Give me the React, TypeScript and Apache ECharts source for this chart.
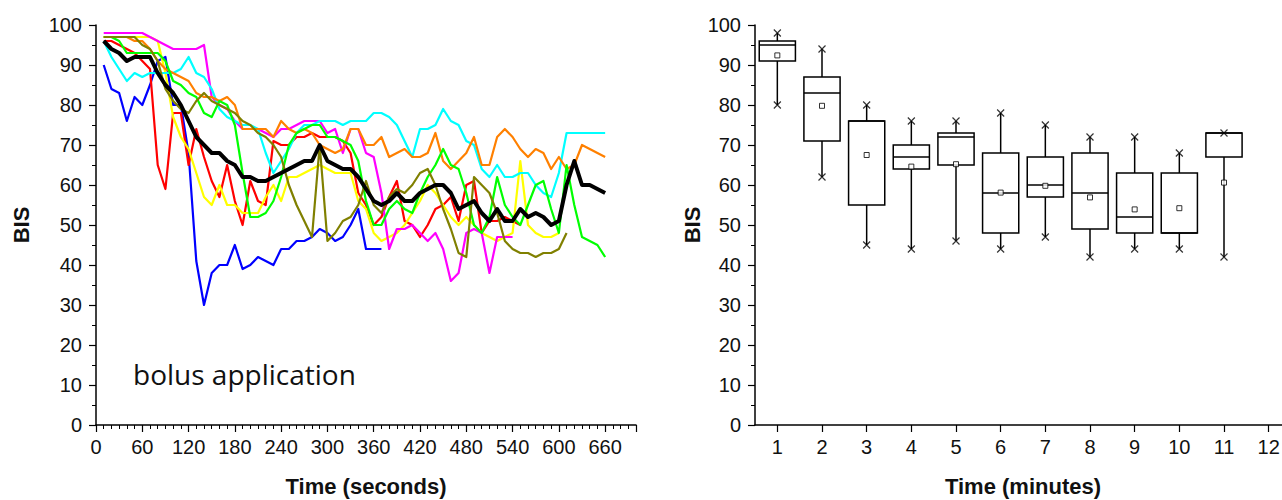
import React, { useEffect, useRef } from "react";
import * as echarts from "echarts";

// ---- Left panel: BIS time courses (sampled every 10 s, first sample at 10 s)
const SAMPLE_STEP = 10;
const blueBIS = [90, 84, 83, 76, 82, 80, 85, 91, 92, 80, 80, 68, 41, 30, 38, 40, 40, 45, 39, 40, 42, 41, 40, 44, 44, 46, 46, 47, 49, 48, 46, 47, 50, 54, 44, 44, 44];
const redBIS = [96, 96, 95, 94, 93, 91, 89, 65, 59, 78, 78, 65, 74, 67, 61, 57, 65, 56, 50, 61, 56, 55, 71, 70, 70, 72, 72, 73, 72, 72, 72, 71, 68, 58, 55, 50, 52, 57, 61, 51, 50, 47, 50, 54, 55, 57, 51, 60, 61, 48, 51, 51, 52, 51, 50];
const yellowBIS = [97, 97, 97, 97, 97, 97, 97, 96, 88, 77, 72, 69, 63, 57, 55, 60, 55, 55, 53, 53, 53, 57, 60, 56, 62, 62, 63, 64, 65, 64, 63, 63, 63, 56, 54, 48, 46, 47, 48, 50, 53, 56, 60, 58, 55, 52, 50, 52, 50, 48, 47, 46, 47, 48, 66, 50, 48, 47, 47, 48];
const magentaBIS = [98, 98, 98, 98, 98, 98, 97, 96, 95, 94, 94, 94, 94, 95, 82, 80, 79, 76, 74, 74, 74, 73, 72, 74, 74, 75, 76, 76, 76, 73, 74, 68, 74, 74, 68, 67, 58, 44, 49, 49, 50, 48, 46, 48, 44, 36, 38, 48, 49, 48, 38, 47, 47, 47];
const cyanBIS = [96, 92, 89, 86, 88, 87, 88, 88, 88, 88, 89, 92, 88, 87, 84, 79, 77, 76, 75, 75, 74, 68, 63, 66, 69, 73, 75, 75, 76, 76, 76, 75, 76, 76, 76, 78, 78, 77, 75, 71, 67, 74, 74, 75, 79, 76, 75, 71, 70, 64, 62, 65, 62, 62, 63, 63, 60, 58, 57, 63, 73, 73, 73, 73, 73, 73];
const orangeBIS = [97, 97, 97, 97, 96, 96, 94, 91, 89, 88, 87, 86, 83, 82, 82, 81, 82, 80, 74, 74, 74, 74, 72, 76, 74, 73, 74, 73, 70, 69, 68, 69, 74, 74, 70, 70, 72, 67, 68, 69, 67, 67, 68, 73, 66, 64, 66, 68, 72, 65, 65, 72, 74, 72, 69, 67, 69, 68, 64, 67, 64, 65, 70, 69, 68, 67];
const greenBIS = [97, 97, 96, 93, 93, 93, 93, 93, 91, 86, 85, 83, 82, 78, 77, 81, 80, 75, 63, 52, 52, 53, 56, 62, 70, 73, 74, 75, 75, 72, 72, 71, 70, 66, 56, 50, 50, 54, 56, 54, 53, 58, 62, 65, 69, 65, 64, 58, 50, 48, 52, 62, 55, 52, 50, 55, 60, 61, 54, 48, 65, 55, 47, 46, 45, 42];
const oliveBIS = [97, 97, 97, 97, 97, 95, 94, 91, 84, 81, 79, 78, 81, 83, 81, 80, 79, 78, 76, 75, 73, 72, 70, 67, 60, 55, 51, 47, 70, 46, 48, 51, 52, 55, 61, 55, 53, 57, 59, 58, 60, 63, 64, 60, 54, 49, 43, 42, 62, 60, 58, 53, 46, 44, 43, 43, 42, 43, 43, 44, 48];
const meanBIS = [96, 94, 93, 91, 92, 92, 92, 88, 85, 83, 80, 76, 72, 70, 68, 68, 66, 65, 62, 62, 61, 61, 62, 63, 64, 65, 66, 66, 70, 66, 65, 64, 64, 62, 59, 56, 55, 56, 58, 56, 56, 58, 59, 60, 60, 58, 54, 55, 56, 53, 51, 54, 51, 51, 54, 52, 53, 52, 50, 51, 60, 66, 60, 60, 59, 58];

// ---- Right panel: box plot per minute
const minuteLabels = ["1", "2", "3", "4", "5", "6", "7", "8", "9", "10", "11", "12"];
const boxMin = [80, 62, 45, 44, 46, 44, 47, 42, 44, 44, 42];
const boxQ1 = [91, 71, 55, 64, 65, 48, 57, 49, 48, 48, 67];
const boxMedian = [95, 83, 76, 67, 72, 58, 60, 58, 52, 48, 73];
const boxQ3 = [96, 87, 76, 70, 73, 68, 67, 68, 63, 63, 73];
const boxMax = [98, 94, 80, 76, 76, 78, 75, 72, 72, 68, 73];
const boxMean = [92.4, 79.8, 67.5, 64.6, 65.2, 58.1, 59.8, 56.9, 53.9, 54.2, 60.6];

const FONT = "'Liberation Sans', Arial, sans-serif";

function toPairs(vals: number[]) {
  return vals.map((v, i) => [(i + 1) * SAMPLE_STEP, v]);
}

export default function App() {
  const ref = useRef<HTMLDivElement>(null);

  useEffect(() => {
    if (!ref.current) return;
    const chart = echarts.init(ref.current, undefined, { renderer: "svg" });

    const lineSeries = (name: string, vals: number[], color: string, width: number, z: number) => ({
      name,
      type: "line",
      xAxisIndex: 0,
      yAxisIndex: 0,
      data: toPairs(vals),
      showSymbol: false,
      symbol: "none",
      smooth: false,
      z,
      lineStyle: { color, width, join: "round" },
      itemStyle: { color },
    });

    const axisCommon = {
      axisLine: { show: true, lineStyle: { color: "#000", width: 1.5 } },
      splitLine: { show: false },
      axisLabel: { color: "#111", fontSize: 20, fontFamily: FONT },
    };

    const boxData = boxMin.map((_, i) => [i, boxMin[i], boxQ1[i], boxMedian[i], boxQ3[i], boxMax[i]]);
    const extremes = [
      ...boxMax.map((v, i) => [i, v]),
      ...boxMin.map((v, i) => [i, v]),
    ];

    const option: any = {
      animation: false,
      backgroundColor: "#fff",
      grid: [
        { left: 96, top: 25, width: 540, height: 400, outerBoundsMode: "none" },
        { left: 755, top: 25, width: 536, height: 400, outerBoundsMode: "none" },
      ],
      xAxis: [
        {
          ...axisCommon,
          type: "value",
          gridIndex: 0,
          min: 0,
          max: 700,
          interval: 60,
          axisTick: { show: true, length: 7, lineStyle: { color: "#000", width: 1.2 } },
          minorTick: { show: true, splitNumber: 6, length: 4, lineStyle: { color: "#000", width: 1 } },
          axisLabel: {
            ...axisCommon.axisLabel,
            margin: 12,
            formatter: (v: number) => (v % 60 === 0 ? String(v) : ""),
          },
          name: "Time (seconds)",
          nameLocation: "middle",
          nameGap: 50,
          nameTextStyle: { fontSize: 22, fontWeight: "bold", fontFamily: FONT, color: "#111" },
        },
        {
          ...axisCommon,
          type: "category",
          gridIndex: 1,
          data: minuteLabels,
          boundaryGap: true,
          axisTick: { show: true, alignWithLabel: true, length: 7, lineStyle: { color: "#000", width: 1.2 } },
          axisLabel: { ...axisCommon.axisLabel, margin: 12, interval: 0 },
          name: "Time (minutes)",
          nameLocation: "middle",
          nameGap: 50,
          nameTextStyle: { fontSize: 22, fontWeight: "bold", fontFamily: FONT, color: "#111" },
        },
      ],
      yAxis: [
        {
          ...axisCommon,
          type: "value",
          gridIndex: 0,
          min: 0,
          max: 100,
          interval: 10,
          axisTick: { show: true, length: 7, lineStyle: { color: "#000", width: 1.2 } },
          minorTick: { show: true, splitNumber: 2, length: 4, lineStyle: { color: "#000", width: 1 } },
          axisLabel: { ...axisCommon.axisLabel, margin: 14 },
          name: "BIS",
          nameLocation: "middle",
          nameGap: 64,
          nameRotate: 90,
          nameTextStyle: { fontSize: 22, fontWeight: "bold", fontFamily: FONT, color: "#111" },
        },
        {
          ...axisCommon,
          type: "value",
          gridIndex: 1,
          min: 0,
          max: 100,
          interval: 10,
          axisTick: { show: true, length: 7, lineStyle: { color: "#000", width: 1.2 } },
          minorTick: { show: true, splitNumber: 2, length: 4, lineStyle: { color: "#000", width: 1 } },
          axisLabel: { ...axisCommon.axisLabel, margin: 14 },
          name: "BIS",
          nameLocation: "middle",
          nameGap: 52,
          nameRotate: 90,
          nameTextStyle: { fontSize: 22, fontWeight: "bold", fontFamily: FONT, color: "#111" },
        },
      ],
      graphic: [
        {
          type: "text",
          left: 133,
          top: 360,
          style: {
            text: "bolus application",
            fontSize: 28,
            fontFamily: "'Open Sans', sans-serif",
            fill: "#111",
          },
        },
      ],
      series: [
        lineSeries("blue", blueBIS, "#0000ff", 2.2, 2),
        lineSeries("red", redBIS, "#ff0000", 2.2, 2),
        lineSeries("yellow", yellowBIS, "#ffff00", 2.2, 2),
        lineSeries("magenta", magentaBIS, "#ff00ff", 2.2, 2),
        lineSeries("cyan", cyanBIS, "#00ffff", 2.2, 2),
        lineSeries("orange", orangeBIS, "#ff8000", 2.2, 2),
        lineSeries("green", greenBIS, "#00ff00", 2.2, 2),
        lineSeries("olive", oliveBIS, "#808000", 2.2, 2),
        lineSeries("mean", meanBIS, "#000000", 4, 3),
        {
          type: "custom",
          xAxisIndex: 1,
          yAxisIndex: 1,
          data: boxData,
          encode: { x: 0, y: [1, 2, 3, 4, 5] },
          renderItem: (params: any, api: any) => {
            const xi = api.value(0);
            const lo = api.coord([xi, api.value(1)]);
            const q1 = api.coord([xi, api.value(2)]);
            const med = api.coord([xi, api.value(3)]);
            const q3 = api.coord([xi, api.value(4)]);
            const hi = api.coord([xi, api.value(5)]);
            const bw = api.size([1, 0])[0] * 0.81;
            const cx = lo[0];
            const st = { stroke: "#000", lineWidth: 1.5, fill: "none" };
            return {
              type: "group",
              children: [
                { type: "line", shape: { x1: cx, y1: hi[1], x2: cx, y2: q3[1] }, style: st },
                { type: "line", shape: { x1: cx, y1: q1[1], x2: cx, y2: lo[1] }, style: st },
                { type: "rect", shape: { x: cx - bw / 2, y: q3[1], width: bw, height: q1[1] - q3[1] }, style: st },
                { type: "line", shape: { x1: cx - bw / 2, y1: med[1], x2: cx + bw / 2, y2: med[1] }, style: st },
              ],
            };
          },
          z: 2,
        },
        {
          type: "scatter",
          xAxisIndex: 1,
          yAxisIndex: 1,
          data: boxMean.map((v, i) => [i, v]),
          symbol: "rect",
          symbolSize: 5,
          itemStyle: { color: "#fff", borderColor: "#000", borderWidth: 1 },
          z: 3,
        },
        {
          type: "scatter",
          xAxisIndex: 1,
          yAxisIndex: 1,
          data: extremes,
          symbol: "path://M0,0L10,10M10,0L0,10",
          symbolSize: 7,
          itemStyle: { color: "none", borderColor: "#000", borderWidth: 1.2 },
          z: 3,
        },
      ],
    };

    chart.setOption(option);
    return () => chart.dispose();
  }, []);

  return (
    <div
      ref={ref}
      style={{ position: "fixed", left: 0, top: 0, width: 1282, height: 500, background: "#fff" }}
    />
  );
}
